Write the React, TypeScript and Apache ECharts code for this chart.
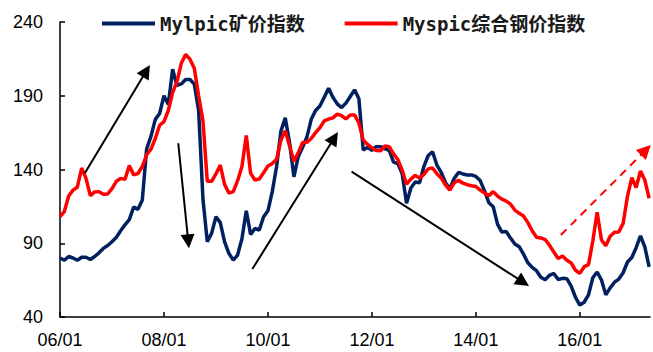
import React, { useEffect, useRef } from "react";
import * as echarts from "echarts";

// Monthly observations, first month January 2006
const startYear = 2006;
const ironOre = [
  80, 78.5, 81, 80, 78.5, 80.5, 80.5, 79, 81, 83.5,
  86.5, 88.5, 91, 94, 98.5, 102.5, 106, 114.5, 113, 119.3,
  154, 162.5, 174, 178, 190, 184, 208, 197, 198, 201,
  201, 198, 180, 120, 91, 96.7, 108, 104, 91, 83,
  78.6, 82, 93, 112, 96, 100, 99, 108, 112, 125,
  142, 166, 175, 158, 135, 148.7, 155, 162, 174, 180,
  183, 189, 195, 189, 184.5, 182, 185, 189.5, 194, 188,
  153.2, 155, 153, 155.5, 155.5, 154, 153, 145, 144, 137,
  117.1, 127.5, 131.5, 131, 142, 149.5, 152, 143, 138, 131,
  127, 134, 138, 137, 136.3, 136.3, 135.3, 132.5, 125.5, 117.5,
  114.8, 103, 97.6, 98, 93.5, 89.5, 87.7, 82.6, 76.8, 73.6,
  71.4, 67, 65.3, 68.3, 69.5, 65.4, 66.2, 66, 61, 53.3,
  48.1, 50, 55, 66.6, 70.5, 65.1, 55, 59.7, 63.6, 65.7,
  70, 77.3, 80.3, 87, 95, 87.6, 74,
];
const steel = [
  108, 111.5, 122, 126, 128, 141, 134, 122.3, 124.8, 125,
  123.2, 123.4, 127, 132, 134, 133.3, 142.7, 136.3, 137.3, 142,
  150, 153.8, 161, 170, 172.4, 180, 192.2, 199.5, 212, 218,
  214.8, 208.7, 190, 173, 132, 132, 137, 143, 129.8, 124,
  125, 132.4, 142, 163, 137.5, 132.9, 133.5, 137.8, 142.4, 144,
  146.9, 160, 166.3, 156, 145.5, 151.3, 158.3, 158.4, 161, 165,
  168.3, 173, 174.2, 175, 177.5, 176.5, 174.3, 177, 177, 171.5,
  160, 157, 154.7, 152.8, 152.7, 156, 155.5, 150.6, 146.7, 139.5,
  130, 133.5, 136, 134.2, 136.7, 140.4, 141, 137.2, 134.3, 129.5,
  126.1, 131, 132.7, 130.7, 129.7, 129, 128.5, 126, 124, 122.2,
  125, 122, 119.9, 118.6, 116.5, 112.5, 110.3, 108.5, 104, 98.5,
  94.1, 93.6, 92.5, 88.6, 84, 79.7, 81.3, 78.5, 76.6, 71.7,
  69.6, 74.1, 75.5, 91.5, 111, 92.2, 88.3, 94.8, 97.5, 97.7,
  103.5, 121.8, 134.4, 127.8, 139, 132.9, 120.5,
];

const seriesNames = ["Mylpic矿价指数", "Myspic综合钢价指数"];
const yTicks = { min: 40, max: 240, step: 50 };

// Trend arrows: [from, to] in (year, index value)
const trendArrows = [
  [[2006.48, 137.6], [2007.66, 206.8]],
  [[2008.275, 157.8], [2008.467, 91.3]],
  [[2009.7, 72.5], [2011.275, 161.4]],
  [[2011.61, 138.5], [2014.91, 63.6]],
];
const reboundArrow = [[2015.635, 95.6], [2017.27, 153.2]];

const toYear = (i: number) => startYear + i / 12;

export default function App() {
  const ref = useRef<HTMLDivElement>(null);

  useEffect(() => {
    if (!ref.current) return;
    const chart = echarts.init(ref.current, undefined, { renderer: "svg" });
    const axisFont = { fontFamily: "'Liberation Sans', Arial, sans-serif", fontSize: 18, color: "#000" };

    chart.setOption({
      animation: false,
      grid: { left: 60, top: 22, width: 590, height: 295 },
      legend: {
        left: 97,
        top: 9,
        icon: "rect",
        itemWidth: 53,
        itemHeight: 4,
        itemGap: 40,
        textStyle: {
          fontFamily: "'DejaVu Sans Mono', 'Noto Sans CJK SC', sans-serif",
          fontSize: 19,
          fontWeight: "bold",
          color: "#1a1a1a",
        },
        data: seriesNames,
      },
      xAxis: {
        type: "value",
        min: startYear,
        max: 2017.35,
        interval: 2,
        splitLine: { show: false },
        axisLine: { lineStyle: { color: "#000", width: 1.5 } },
        axisTick: { inside: true, length: 5, lineStyle: { color: "#000", width: 1.5 } },
        axisLabel: {
          ...axisFont,
          margin: 14,
          showMaxLabel: false,
          formatter: (v: number) =>
            Number.isInteger(v) ? String(v % 100).padStart(2, "0") + "/01" : "",
        },
      },
      yAxis: {
        type: "value",
        min: yTicks.min,
        max: yTicks.max,
        interval: yTicks.step,
        splitLine: { show: false },
        axisLine: { show: true, lineStyle: { color: "#000", width: 1.5 } },
        axisTick: { show: true, inside: true, length: 5, lineStyle: { color: "#000", width: 1.5 } },
        axisLabel: { ...axisFont, margin: 17 },
      },
      series: [
        {
          name: seriesNames[0],
          type: "line",
          showSymbol: false,
          symbol: "none",
          data: ironOre.map((v, i) => [toYear(i), v]),
          lineStyle: { color: "#002060", width: 3.5 },
          itemStyle: { color: "#002060" },
          markLine: {
            silent: true,
            symbol: ["none", "triangle"],
            symbolSize: 14,
            label: { show: false },
            lineStyle: { color: "#000", width: 2, type: "solid" },
            data: [
              ...trendArrows.map(([a, b]) => [{ coord: a }, { coord: b }]),
              [
                { coord: reboundArrow[0], lineStyle: { color: "#ff0000", type: [8, 6], width: 2 } },
                { coord: reboundArrow[1] },
              ],
            ],
          },
        },
        {
          name: seriesNames[1],
          type: "line",
          showSymbol: false,
          symbol: "none",
          data: steel.map((v, i) => [toYear(i), v]),
          lineStyle: { color: "#ff0000", width: 3.5 },
          itemStyle: { color: "#ff0000" },
        },
      ],
    });
    return () => chart.dispose();
  }, []);

  return <div ref={ref} style={{ width: 653, height: 352, position: "absolute", left: 0, top: 0 }} />;
}
